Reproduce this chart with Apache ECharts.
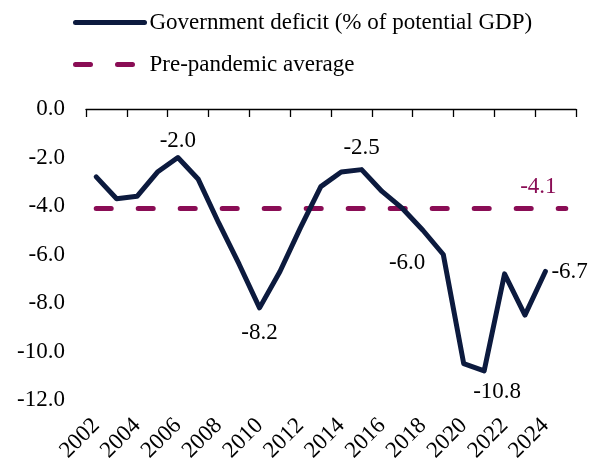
<!DOCTYPE html>
<html><head><meta charset="utf-8">
<script src="https://cdn.jsdelivr.net/npm/echarts@6/dist/echarts.min.js"></script>
<style>html,body{margin:0;padding:0;background:#fff}#c{width:597px;height:463px}</style>
</head><body><div id="c"></div>
<script>
const years = ['2002','2003','2004','2005','2006','2007','2008','2009','2010','2011','2012','2013','2014','2015','2016','2017','2018','2019','2020','2021','2022','2023','2024','2025'];
const deficit = [-2.8,-3.7,-3.6,-2.6,-2.0,-2.9,-4.7,-6.4,-8.2,-6.7,-4.9,-3.2,-2.6,-2.5,-3.4,-4.1,-5.0,-6.0,-10.5,-10.8,-6.8,-8.5,-6.7,null];
const prePandemic = [-4.1,-4.1,-4.1,-4.1,-4.1,-4.1,-4.1,-4.1,-4.1,-4.1,-4.1,-4.1,-4.1,-4.1,-4.1,-4.1,-4.1,-4.1,-4.1,-4.1,-4.1,-4.1,-4.1,-4.1];
const yTicks = [0,-2,-4,-6,-8,-10,-12];
const seriesNames = ['Government deficit (% of potential GDP)','Pre-pandemic average'];

const FONT = 'Liberation Serif';
const NAVY = '#0c1a3e';
const MAROON = '#8a0d55';

const defLabels = {
  4: {position:'top', distance:5},
  8: {position:'bottom', distance:14},
  13:{position:'top', distance:10},
  17:{position:'left', distance:18, offset:[0,8]},
  19:{position:'bottom', distance:10, offset:[13,0]},
  22:{position:'right', distance:6}
};
const defData = deficit.map((v,i)=> defLabels[i] ? {value:v, label:Object.assign({show:true}, defLabels[i])} : v);
const avgData = prePandemic.map((v,i)=> i===22 ? {value:v, label:{show:true, position:'top', distance:10, offset:[-7,0], color:MAROON}} : v);

const chart = echarts.init(document.getElementById('c'));
chart.setOption({
  animation:false,
  textStyle:{fontFamily:FONT},
  legend:{
    orient:'vertical', left:73, top:11, padding:0, itemWidth:69, itemHeight:20, itemGap:19,
    itemStyle:{color:'rgba(0,0,0,0)', borderColor:'rgba(0,0,0,0)', borderWidth:0},
    lineStyle:{width:5, cap:'round'},
    textStyle:{fontFamily:FONT, fontSize:23, color:'#000'},
    data:seriesNames
  },
  grid:{left:86, right:21, top:109, bottom:63, containLabel:false, outerBoundsMode:'none'},
  xAxis:[{
    type:'category', data:years, position:'top', boundaryGap:true,
    axisLine:{show:true, onZero:false, lineStyle:{color:'#000', width:1.3}},
    axisTick:{show:true, inside:true, length:8, interval:1, lineStyle:{color:'#000', width:1.3}},
    axisLabel:{show:false}
  },{
    type:'category', data:years, position:'bottom', boundaryGap:true,
    axisLine:{show:false}, axisTick:{show:false},
    axisLabel:{show:true, interval:1, rotate:45, margin:22, fontFamily:FONT, fontSize:23, color:'#000'}
  }],
  yAxis:{
    type:'value', min:-12, max:0, interval:2,
    axisLine:{show:false}, axisTick:{show:false}, splitLine:{show:false},
    axisLabel:{margin:21, fontFamily:FONT, fontSize:23, color:'#000', formatter:v=>v.toFixed(1)}
  },
  series:[{
    name:seriesNames[0], type:'line', data:defData, symbol:'circle', symbolSize:0.01, showSymbol:true, xAxisIndex:0,
    lineStyle:{color:NAVY, width:5, cap:'round', join:'round'}, itemStyle:{color:NAVY},
    label:{fontFamily:FONT, fontSize:23, color:'#000', formatter:p=>p.value.toFixed(1)},
    z:3
  },{
    name:seriesNames[1], type:'line', data:avgData, symbol:'circle', symbolSize:0.01, showSymbol:true, xAxisIndex:0,
    lineStyle:{color:MAROON, width:5, type:[15,27], cap:'round'}, itemStyle:{color:MAROON},
    label:{fontFamily:FONT, fontSize:23, color:MAROON, formatter:p=>p.value.toFixed(1)},
    z:2
  }]
});
</script></body></html>
